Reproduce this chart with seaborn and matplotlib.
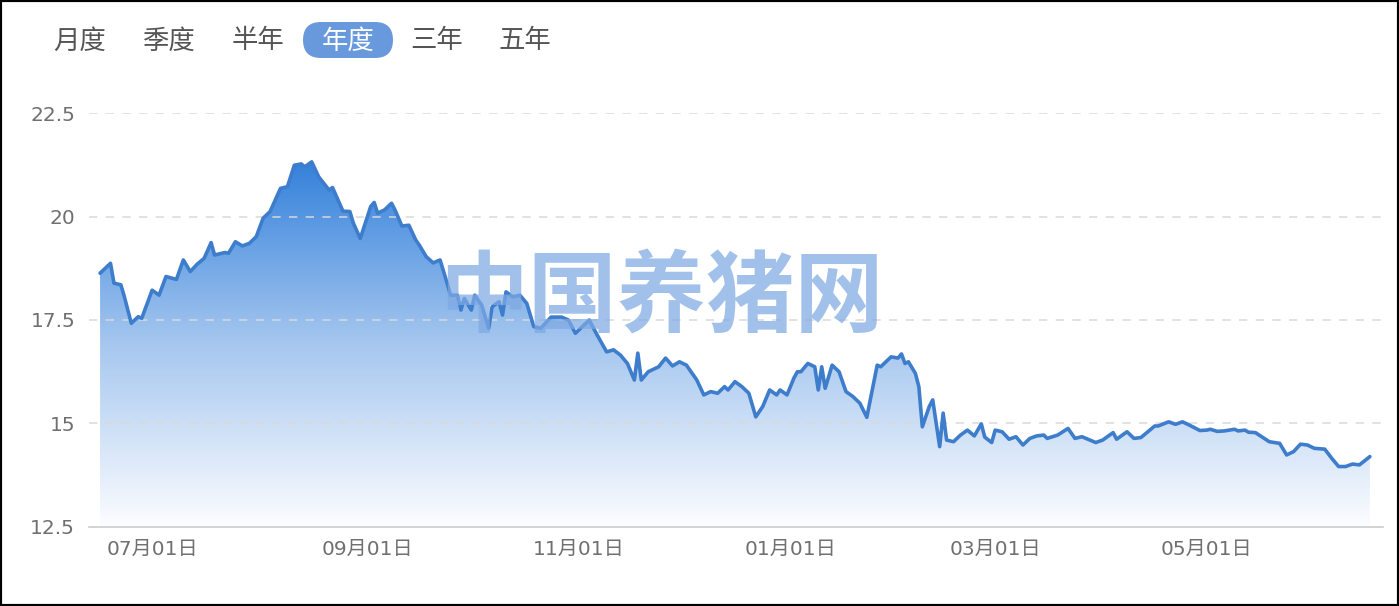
import numpy as np
import pandas as pd
import seaborn as sns
import matplotlib.pyplot as plt
import matplotlib.dates as mdates
from matplotlib.colors import LinearSegmentedColormap
from matplotlib.patches import Rectangle, FancyBboxPatch

# day offsets from 2024-07-01 and price readings (yuan/kg)
day_offsets = [
    -15, -12, -11, -9, -8, -6, -4, -3, 0, 2, 4, 7, 9, 11, 13, 15, 17, 18, 21, 22,
    24, 26, 28, 30, 32, 34, 37, 39, 41, 43, 44, 46, 48, 51, 52, 55, 57, 58, 60, 63,
    64, 65, 67, 69, 70, 72, 74, 76, 77, 79, 81, 83, 85, 86, 88, 89, 90, 92, 93, 95,
    97, 98, 100, 101, 102, 104, 106, 108, 110, 112, 115, 118, 120, 122, 123, 126, 128, 131, 133, 135,
    137, 139, 140, 141, 143, 145, 146, 148, 150, 152, 154, 157, 159, 161, 163, 165, 166, 168, 170, 172,
    174, 176, 178, 180, 181, 183, 185, 186, 187, 189, 191, 192, 193, 194, 196, 198, 200, 202, 204, 206,
    209, 210, 213, 215, 216, 217, 218, 220, 221, 222, 224, 225, 227, 228, 229, 231, 233, 235, 237, 239,
    240, 242, 243, 245, 247, 249, 251, 253, 255, 257, 258, 261, 264, 266, 268, 272, 274, 277, 278, 281,
    283, 285, 289, 290, 293, 295, 297, 299, 302, 304, 305, 307, 309, 312, 313, 315, 316, 318, 322, 325,
    327, 329, 331, 333, 335, 338, 340, 342, 344, 346, 348, 351,
]
prices = [
    18.63, 18.87, 18.39, 18.35, 18.06, 17.42, 17.58, 17.54, 18.22, 18.10, 18.55, 18.48, 18.95, 18.67, 18.85, 18.99, 19.37, 19.07, 19.13, 19.11,
    19.39, 19.29, 19.35, 19.51, 19.96, 20.12, 20.68, 20.72, 21.24, 21.27, 21.20, 21.32, 20.96, 20.64, 20.70, 20.13, 20.12, 19.84, 19.47, 20.24,
    20.34, 20.08, 20.16, 20.32, 20.16, 19.77, 19.79, 19.43, 19.31, 19.03, 18.88, 18.95, 18.40, 18.10, 18.10, 17.74, 18.02, 17.74, 18.10, 17.86,
    17.30, 17.82, 17.94, 17.62, 18.18, 18.06, 18.10, 17.90, 17.34, 17.30, 17.57, 17.57, 17.50, 17.18, 17.26, 17.50, 17.18, 16.73, 16.78, 16.65,
    16.45, 16.05, 16.70, 16.05, 16.25, 16.33, 16.37, 16.58, 16.39, 16.49, 16.41, 16.05, 15.69, 15.77, 15.73, 15.89, 15.81, 16.01, 15.89, 15.73,
    15.16, 15.41, 15.81, 15.69, 15.81, 15.69, 16.10, 16.25, 16.25, 16.45, 16.37, 15.81, 16.37, 15.85, 16.41, 16.25, 15.77, 15.65, 15.49, 15.15,
    16.41, 16.37, 16.61, 16.58, 16.68, 16.45, 16.49, 16.21, 15.89, 14.92, 15.41, 15.57, 14.44, 15.25, 14.60, 14.56, 14.72, 14.84, 14.70, 14.99,
    14.67, 14.54, 14.84, 14.80, 14.62, 14.68, 14.48, 14.64, 14.70, 14.72, 14.64, 14.72, 14.88, 14.64, 14.68, 14.54, 14.60, 14.78, 14.62, 14.80,
    14.64, 14.66, 14.94, 14.94, 15.04, 14.98, 15.04, 14.96, 14.83, 14.84, 14.86, 14.81, 14.82, 14.86, 14.82, 14.84, 14.79, 14.78, 14.56, 14.52,
    14.24, 14.32, 14.50, 14.48, 14.40, 14.38, 14.16, 13.96, 13.96, 14.02, 14.00, 14.20,
]
y_ticks = [12.5, 15, 17.5, 20, 22.5]
y_tick_labels = ["12.5", "15", "17.5", "20", "22.5"]
range_buttons = ["月度", "季度", "半年", "年度", "三年", "五年"]
active_button = "年度"
watermark = "中国养猪网"

start = pd.Timestamp("2024-07-01")
df = pd.DataFrame({
    "date": start + pd.to_timedelta(day_offsets, unit="D"),
    "price": prices,
})

sns.set_theme(style="white")
plt.rcParams["font.family"] = ["DejaVu Sans", "Noto Sans CJK SC"]
cjk = ["Noto Sans CJK SC", "DejaVu Sans"]

fig = plt.figure(figsize=(13.99, 6.06), dpi=100)
ax = fig.add_axes([0.0636, 0.1304, 0.925, 0.6831])

line_color = "#3d7dcb"
xnum = mdates.date2num(df["date"])

# gradient area under the line
fill = ax.fill_between(df["date"], df["price"], 12.5, facecolor="none", edgecolor="none")
cmap = LinearSegmentedColormap.from_list("area", ["#fcfdff", "#a6c7ef", "#3481db"])
grad = np.linspace(0, 1, 256).reshape(-1, 1)
img = ax.imshow(grad, cmap=cmap, aspect="auto", origin="lower",
                extent=[xnum.min(), xnum.max(), 12.5, max(prices)], zorder=1)
img.set_clip_path(fill.get_paths()[0], transform=ax.transData)

sns.lineplot(data=df, x="date", y="price", ax=ax, color=line_color, linewidth=2.6, zorder=3)

ax.set_xlim(start - pd.Timedelta(days=18.2), start + pd.Timedelta(days=354.8))
ax.set_ylim(12.5, 22.5)
ax.set_yticks(y_ticks)
ax.set_yticklabels(y_tick_labels)
ax.set_xlabel("")
ax.set_ylabel("")

for t in y_ticks[1:]:
    ax.axhline(t, color="#d9d9d9", linewidth=1.2, linestyle=(0, (5, 5)), zorder=2, alpha=0.9)

ax.xaxis.set_major_locator(mdates.MonthLocator(bymonth=[1, 3, 5, 7, 9, 11]))
ax.xaxis.set_major_formatter(mdates.DateFormatter("%m月%d日"))

for side in ["top", "right", "left"]:
    ax.spines[side].set_visible(False)
ax.spines["bottom"].set_color("#cccccc")
ax.spines["bottom"].set_linewidth(1.2)
ax.tick_params(axis="x", colors="#cccccc", length=6, width=1, labelcolor="#707070",
               labelsize=14.5, pad=3)
ax.tick_params(axis="y", length=0, labelcolor="#707070", labelsize=14.5, pad=10)

# watermark
fig.text(0.473, 0.506, watermark, fontsize=64, fontweight="bold", color="#7ea9e3",
         alpha=0.72, ha="center", va="center", zorder=5, family=cjk)

# range selector buttons
btn_x = [80, 168, 258, 348, 437, 525]
for label, bx in zip(range_buttons, btn_x):
    if label == active_button:
        pill = FancyBboxPatch((3.03, 5.48), 0.90, 0.36,
                              boxstyle="round,pad=0,rounding_size=0.18",
                              transform=fig.dpi_scale_trans, facecolor="#6899dd",
                              edgecolor="none")
        fig.patches.append(pill)
        color = "white"
    else:
        color = "#555555"
    fig.text(bx / 1399, 1 - 41 / 606, label, fontsize=19, color=color,
             ha="center", va="center", family=cjk)

# screenshot frame
fig.patches.append(Rectangle((0, 0), 1, 1, transform=fig.transFigure, fill=False,
                             edgecolor="black", linewidth=3))

fig.savefig("out.png", dpi=100)
